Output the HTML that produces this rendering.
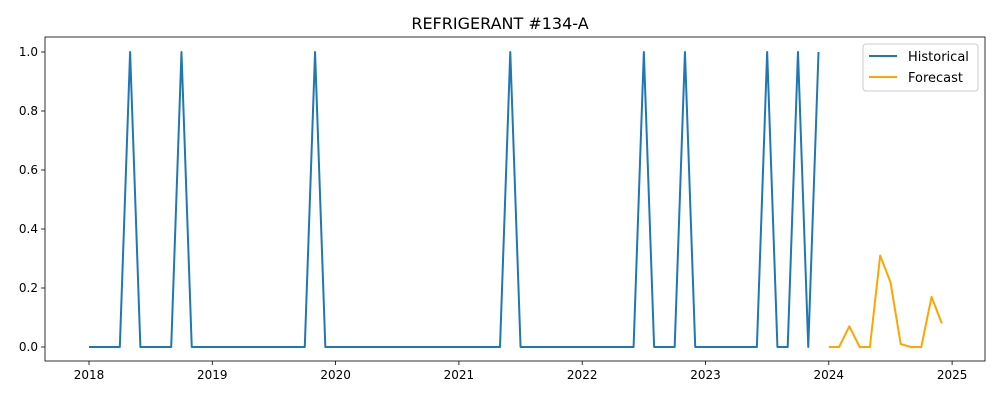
<!DOCTYPE html>
<html><head><meta charset="utf-8"><style>
body{margin:0;background:#fff;font-family:"Liberation Sans","DejaVu Sans",sans-serif}
svg text{font-family:"DejaVu Sans","Liberation Sans",sans-serif}
</style></head><body>
<svg id="chart" width="1000" height="400" xmlns="http://www.w3.org/2000/svg"></svg>
<script>
const histStart = [2018, 1];
const histPeakMonths = ["2018-05","2018-10","2019-11","2021-06","2022-07","2022-11","2023-07","2023-10","2023-12"];
const histCount = 72;
const forecastMonths = ["2024-01","2024-02","2024-03","2024-04","2024-05","2024-06","2024-07","2024-08","2024-09","2024-10","2024-11","2024-12"];
const forecastValues = [0,0,0.07,0,0,0.31,0.22,0.01,0,0,0.17,0.08];
const yTicks = [0.0,0.2,0.4,0.6,0.8,1.0];
const xTicks = [2018,2019,2020,2021,2022,2023,2024,2025];

const NS="http://www.w3.org/2000/svg";
const svg=document.getElementById('chart');
function el(t,a,p){const e=document.createElementNS(NS,t);for(const k in a)e.setAttribute(k,a[k]);(p||svg).appendChild(e);return e;}
const L=45,R=985,T=37,B=361;
function mIdx(s){const [y,m]=s.split('-').map(Number);return (y-2018)*12+(m-1);}
function xs(idx){return 89+idx*(123.3/12);}
function ys(v){return 347-v*295;}

const hist=[];
for(let i=0;i<histCount;i++){
  const y=histStart[0]+Math.floor(i/12), m=i%12+1;
  const key=y+"-"+String(m).padStart(2,'0');
  hist.push(histPeakMonths.includes(key)?1:0);
}

const t=el('text',{x:500,y:29,'text-anchor':'middle','font-size':16,fill:'#000'});
t.textContent="REFRIGERANT #134-A";



yTicks.forEach(v=>{
  const y=ys(v);
  const l=el('line',{x1:L-4,x2:L,y1:y,y2:y,stroke:'#000','stroke-width':0.8});
  
  
  const tx=el('text',{x:L-7,y:y+4,'text-anchor':'end','font-size':12,fill:'#000'});
  tx.textContent=v.toFixed(1);
  
  
});
xTicks.forEach(yr=>{
  const x=xs((yr-2018)*12);
  const l=el('line',{x1:x,x2:x,y1:B,y2:B+4,stroke:'#000','stroke-width':0.8});
  
  
  const tx=el('text',{x:x,y:B+18,'text-anchor':'middle','font-size':12,fill:'#000'});
  tx.textContent=yr;
  
  
});

const hp=el('polyline',{points:hist.map((v,i)=>xs(i)+","+ys(v)).join(" "),fill:'none',stroke:'#1f77b4','stroke-width':2,'stroke-linejoin':'round'});


const fp=el('polyline',{points:forecastValues.map((v,i)=>xs(mIdx(forecastMonths[i]))+","+ys(v)).join(" "),fill:'none',stroke:'#ffa500','stroke-width':2,'stroke-linejoin':'round'});



const frame=el('rect',{x:L,y:T,width:R-L,height:B-T,fill:'none',stroke:'#000','stroke-width':0.8});



const lg=el('g',{});


el('rect',{x:863,y:44,width:115,height:47,rx:3,fill:'#fff',stroke:'#ccc','stroke-width':1},lg);
[["Historical","#1f77b4",57],["Forecast","#ffa500",78]].forEach(([n,c,y])=>{
  const g=el('g',{},lg);
  
  
  el('line',{x1:869,x2:897,y1:y-1,y2:y-1,stroke:c,'stroke-width':2},g);
  const tx=el('text',{x:908,y:y+4,'font-size':13,fill:'#000'},g);
  tx.textContent=n;
});
</script>
</body></html>
